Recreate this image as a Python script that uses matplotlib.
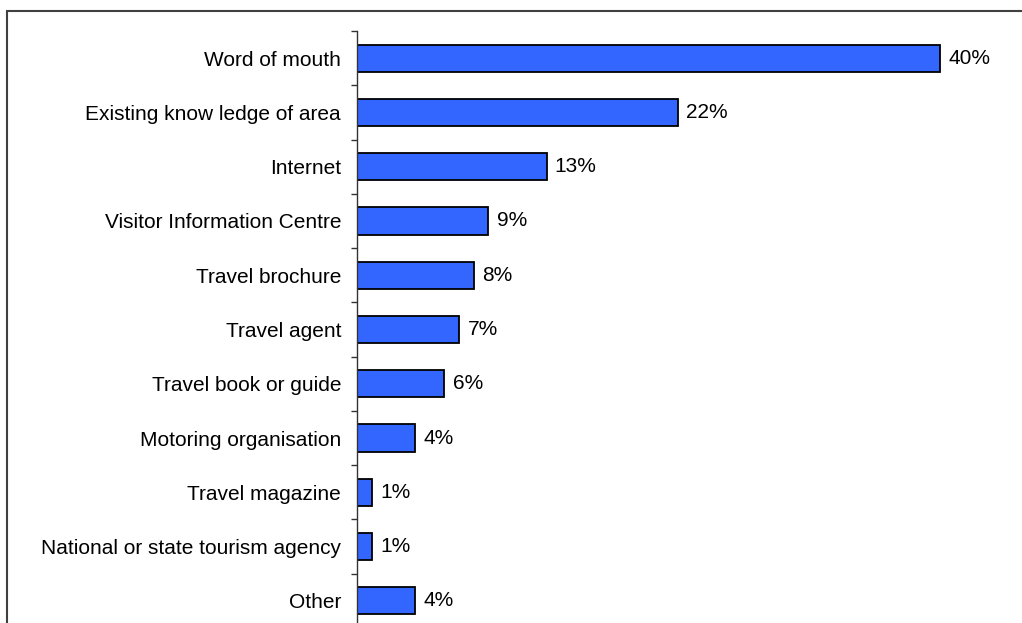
import numpy as np
import matplotlib.pyplot as plt
from matplotlib.patches import Rectangle
from matplotlib.ticker import FixedLocator

plt.rcParams['font.family'] = ['Liberation Sans', 'DejaVu Sans']

categories = [
    "Word of mouth",
    "Existing know ledge of area",
    "Internet",
    "Visitor Information Centre",
    "Travel brochure",
    "Travel agent",
    "Travel book or guide",
    "Motoring organisation",
    "Travel magazine",
    "National or state tourism agency",
    "Other",
]
percent = [40, 22, 13, 9, 8, 7, 6, 4, 1, 1, 4]


def main():
    fig = plt.figure(figsize=(10.22, 6.23), dpi=100)
    W, H = 1022, 623
    # axes runs a little past the bottom edge, like the original export
    ax = fig.add_axes([357 / W, -5 / H, (1013 - 357) / W, (628 - 31) / H])

    n = len(categories)
    y = np.arange(n)
    ax.barh(y, percent, height=0.5, color="#3366ff", edgecolor="black", linewidth=1.3)
    for yi, v in zip(y, percent):
        ax.annotate(f"{v}%", xy=(v, yi), xytext=(6, 0), textcoords="offset points",
                    va="center", ha="left", fontsize=15)

    ax.set_xlim(0, 45)
    ax.set_ylim(n - 0.5, -0.5)
    ax.set_yticks(y)
    ax.set_yticklabels(categories, fontsize=15)
    ax.tick_params(axis="y", which="major", length=0, pad=11.5)
    ax.yaxis.set_minor_locator(FixedLocator(np.arange(n + 1) - 0.5))
    ax.tick_params(axis="y", which="minor", length=4, width=1, color="#333333")
    ax.set_xticks([])
    for s in ["top", "right", "bottom"]:
        ax.spines[s].set_visible(False)
    ax.spines["left"].set_color("#333333")
    ax.spines["left"].set_linewidth(1)

    # outer frame around the chart area
    fig.patches.append(Rectangle((7 / W, -0.05), 1.1, 1.05 - 11 / H,
                                 transform=fig.transFigure, fill=False,
                                 edgecolor="#404040", linewidth=1.5))

    fig.savefig("out.png", dpi=100)


if __name__ == "__main__":
    main()
